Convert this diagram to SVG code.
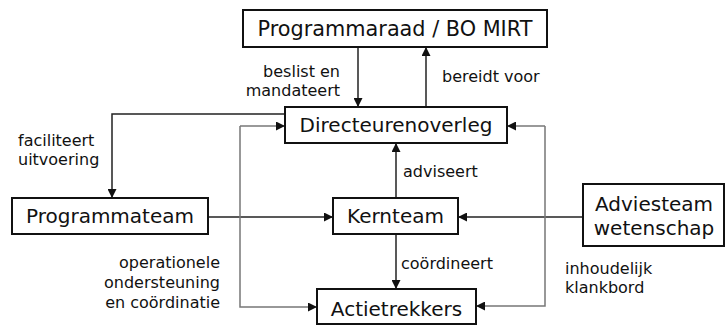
<svg xmlns="http://www.w3.org/2000/svg" width="728" height="326" viewBox="0 0 728 326">
<defs>
<marker id="ah" viewBox="0 0 10 10" refX="10" refY="5" markerWidth="9" markerHeight="9" markerUnits="userSpaceOnUse" orient="auto">
<path d="M0,0 L10,5 L0,10 z" fill="#111"/>
</marker>
<style>
.box{fill:#fff;stroke:#111;stroke-width:2}
.nt{font-family:"DejaVu Sans",Verdana,sans-serif;font-size:20px;fill:#111;text-anchor:middle}
.lb{font-family:"DejaVu Sans",Verdana,sans-serif;font-size:16px;fill:#111}
.c{fill:none;stroke:#222;stroke-width:1.5}
.g{fill:none;stroke:#777;stroke-width:1.5}
</style>
</defs>
<rect width="728" height="326" fill="#fff"/>
<g id="connectors">
<path class="c" d="M358,47 V107" marker-end="url(#ah)"/>
<path class="c" d="M426,107 V47" marker-end="url(#ah)"/>
<path class="c" d="M285,114 H112 V198" marker-end="url(#ah)"/>
<path class="c" d="M208,217 H333" marker-end="url(#ah)"/>
<path class="c" d="M583,217 H458" marker-end="url(#ah)"/>
<path class="c" d="M396,198 V143" marker-end="url(#ah)"/>
<path class="c" d="M396,234 V289" marker-end="url(#ah)"/>
<path class="g" d="M240,126 H285" marker-end="url(#ah)"/>
<path class="g" d="M240,126 V307 H317" marker-end="url(#ah)"/>
<path class="g" d="M545,126 H507" marker-end="url(#ah)"/>
<path class="g" d="M545,126 V306 H476" marker-end="url(#ah)"/>
</g>
<g id="programmaraad">
<rect class="box" x="243" y="10" width="304" height="37"/>
<text class="nt" x="395" y="36" style="font-size:20.8px">Programmaraad / BO MIRT</text>
</g>
<g id="directeurenoverleg">
<rect class="box" x="285" y="107" width="222" height="36"/>
<text class="nt" x="396" y="132">Directeurenoverleg</text>
</g>
<g id="programmateam">
<rect class="box" x="12" y="198" width="196" height="36"/>
<text class="nt" x="110" y="223">Programmateam</text>
</g>
<g id="kernteam">
<rect class="box" x="333" y="198" width="125" height="36"/>
<text class="nt" x="395.5" y="223">Kernteam</text>
</g>
<g id="adviesteam">
<rect class="box" x="583" y="184" width="141" height="62"/>
<text class="nt" x="654" y="211">Adviesteam</text>
<text class="nt" x="654" y="235">wetenschap</text>
</g>
<g id="actietrekkers">
<rect class="box" x="317" y="289" width="159" height="35"/>
<text class="nt" x="396.5" y="316">Actietrekkers</text>
</g>
<g id="labels">
<text class="lb" x="340" y="77" text-anchor="end">beslist en</text>
<text class="lb" x="340" y="96" text-anchor="end">mandateert</text>
<text class="lb" x="442" y="82">bereidt voor</text>
<text class="lb" x="18" y="146">faciliteert</text>
<text class="lb" x="18" y="165">uitvoering</text>
<text class="lb" x="403" y="177">adviseert</text>
<text class="lb" x="401" y="269">coördineert</text>
<text class="lb" x="220" y="268" text-anchor="end">operationele</text>
<text class="lb" x="220" y="288" text-anchor="end">ondersteuning</text>
<text class="lb" x="220" y="308" text-anchor="end">en coördinatie</text>
<text class="lb" x="565" y="274">inhoudelijk</text>
<text class="lb" x="565" y="293">klankbord</text>
</g>
</svg>
